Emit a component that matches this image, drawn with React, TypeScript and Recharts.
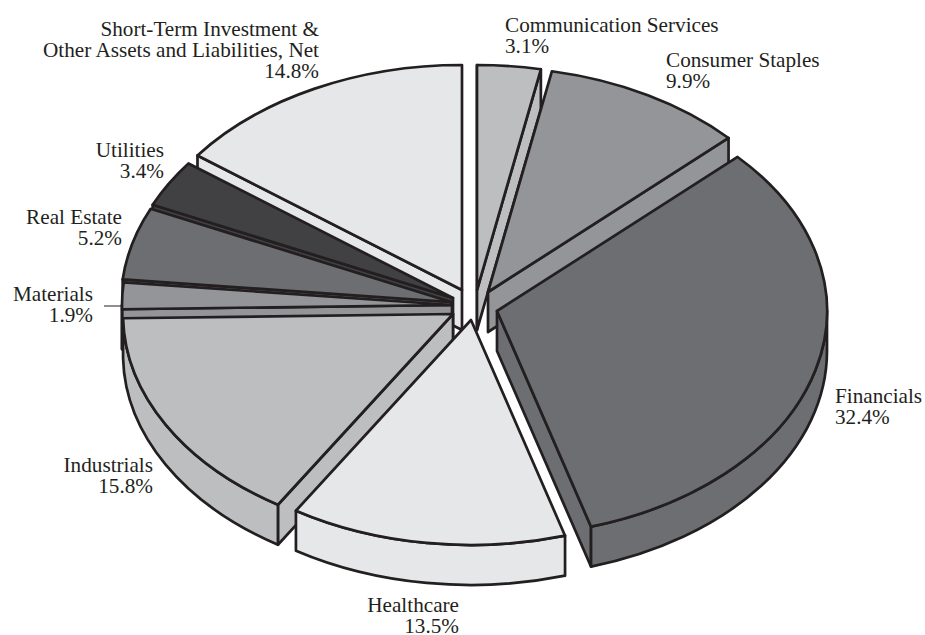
import React from 'react';
import { Pie, PieChart } from 'recharts';

const categories = [
  'Communication Services',
  'Consumer Staples',
  'Financials',
  'Healthcare',
  'Industrials',
  'Materials',
  'Real Estate',
  'Utilities',
  'Short-Term Investment &\nOther Assets and Liabilities, Net',
];
const shares = [3.1, 9.9, 32.4, 13.5, 15.8, 1.9, 5.2, 3.4, 14.8];
const fills = ['#bcbec0', '#939598', '#6d6e71', '#e6e7e8', '#bcbec0', '#939598', '#6d6e71', '#414042', '#e6e7e8'];

// apex of each exploded slice, relative to the pie centre
const apexOffsets = [[17, -10], [28, -8], [37, 11], [11, 20], [-7, 14], [-8, 5], [-9, 2], [-7, -2], [2, -10]];
// painter's order, back slices first
const drawOrder = [8, 7, 6, 5, 0, 1, 2, 4, 3];
// anchor, x, first baseline
const labelSpots: [string, number, number][] = [
  ['start', 505, 32],
  ['start', 666, 67],
  ['start', 835, 403],
  ['end', 459, 612],
  ['end', 153, 472],
  ['end', 93, 301],
  ['end', 122, 224],
  ['end', 164, 157],
  ['end', 319, 36],
];

const table = categories.map((name, i) => ({ name, value: shares[i], fill: fills[i] }));

const CX = 460;
const CY = 300;
const RX = 330;
const RY = 225;
const DEPTH = 40;
const INK = '#231f20';
const LINE_GAP = 21;

const Slice = ({ cx, cy, outerRadius, startAngle, endAngle, fill, index }: any) => {
  const [dx, dy] = apexOffsets[index];
  const ax = cx + dx;
  const ay = cy + dy;
  const ry = (outerRadius * RY) / RX;
  // angles clockwise from the top of the ellipse
  const from = 90 - startAngle;
  const to = 90 - endAngle;
  const sin = (deg: number) => Math.sin((deg * Math.PI) / 180);
  const pt = (deg: number, drop = 0) => {
    const a = (deg * Math.PI) / 180;
    return `${ax + outerRadius * Math.sin(a)} ${ay - ry * Math.cos(a) + drop}`;
  };
  const big = to - from > 180 ? 1 : 0;
  const side = (deg: number) => `M${ax} ${ay}L${pt(deg)}L${pt(deg, DEPTH)}L${ax} ${ay + DEPTH}Z`;
  const wallFrom = Math.max(from, 90);
  const wallTo = Math.min(to, 270);
  const shared = { fill, stroke: INK, strokeWidth: 2.7, strokeLinejoin: 'round' as const };
  return (
    <g>
      {sin(from) < 0.001 && <path d={side(from)} {...shared} />}
      {sin(to) > 0.001 && <path d={side(to)} {...shared} />}
      {wallTo > wallFrom && (
        <path
          d={`M${pt(wallFrom)}A${outerRadius} ${ry} 0 0 1 ${pt(wallTo)}L${pt(wallTo, DEPTH)}A${outerRadius} ${ry} 0 0 0 ${pt(wallFrom, DEPTH)}Z`}
          {...shared}
        />
      )}
      <path d={`M${ax} ${ay}L${pt(from)}A${outerRadius} ${ry} 0 ${big} 1 ${pt(to)}Z`} {...shared} />
    </g>
  );
};

const SliceLabel = ({ index }: any) => {
  const [anchor, x, y] = labelSpots[index];
  const lines = [...categories[index].split('\n'), `${shares[index].toFixed(1)}%`];
  return (
    <g>
      {lines.map((line, i) => (
        <text
          key={line}
          x={x}
          y={y + i * LINE_GAP}
          textAnchor={anchor as any}
          fill={INK}
          stroke="none"
          fontFamily='"Liberation Serif", serif'
          fontSize={21.2}
        >
          {line}
        </text>
      ))}
      {categories[index] === 'Materials' && <line x1={104} x2={121} y1={306} y2={306} stroke={INK} strokeWidth={1} />}
    </g>
  );
};

export default function App() {
  return (
    <div style={{ position: 'absolute', left: 0, top: 0 }}>
      <PieChart width={925} height={635} margin={{ top: 0, right: 0, bottom: 0, left: 0 }}>
        {drawOrder.map((layer) => (
          <Pie
            key={layer}
            data={table}
            dataKey="value"
            nameKey="name"
            cx={CX}
            cy={CY}
            outerRadius={RX}
            startAngle={90}
            endAngle={-270}
            stroke="none"
            isAnimationActive={false}
            labelLine={false}
            label={(p: any) => (p.index === layer ? <SliceLabel index={p.index} /> : <g />)}
            shape={(p: any) => (p.index === layer ? <Slice {...p} /> : <g />)}
          />
        ))}
      </PieChart>
    </div>
  );
}
